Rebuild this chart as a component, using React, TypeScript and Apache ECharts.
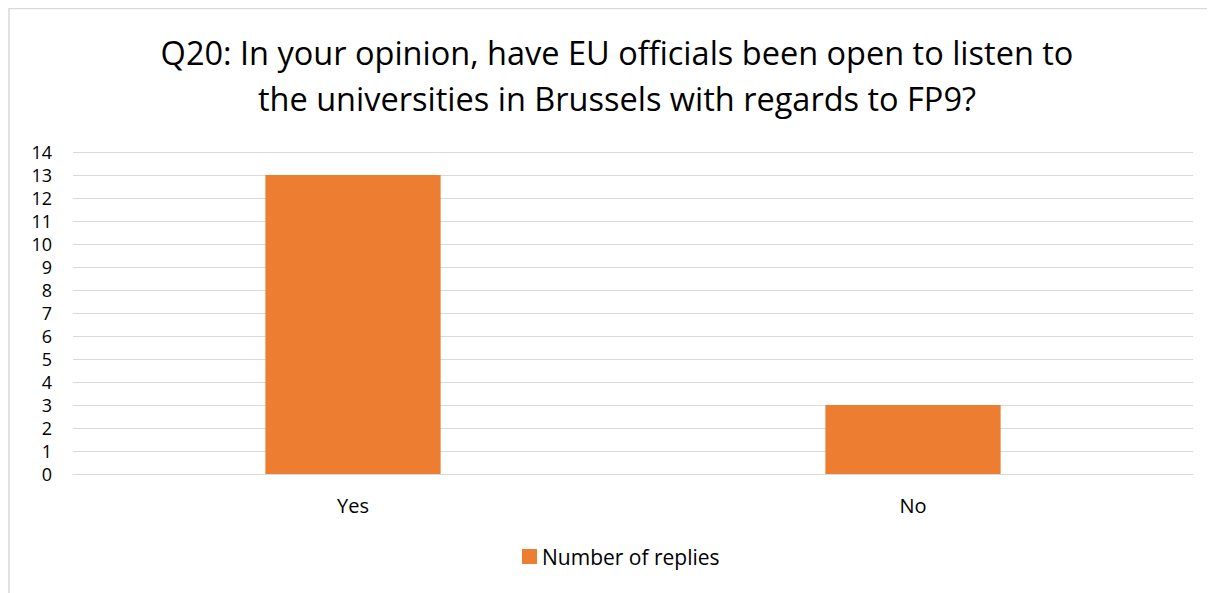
import React, { useEffect, useRef } from "react";
import * as echarts from "echarts";

const categories = ["Yes", "No"];
const replies = [13, 3];
const seriesName = "Number of replies";
const titleLines = [
  "Q20: In your opinion, have EU officials been open to listen to",
  "the universities in Brussels with regards to FP9?",
];

const FONT = "'Open Sans', sans-serif";

export default function App() {
  const ref = useRef<HTMLDivElement>(null);
  useEffect(() => {
    const chart = echarts.init(ref.current!, null, { renderer: "svg" });
    chart.setOption({
      animation: false,
      backgroundColor: "#ffffff",
      graphic: [
        {
          type: "rect",
          shape: { x: 1, y: 0.5, width: 1400, height: 800 },
          style: { fill: "none", stroke: "#d9d9d9", lineWidth: 1.5 },
          silent: true,
          z: 100,
        },
        ...titleLines.map((t, i) => ({
          type: "text",
          x: 609,
          y: 44 + i * 46,
          silent: true,
          style: {
            text: t,
            fontFamily: FONT,
            fontSize: 32.5,
            fill: "#000000",
            textAlign: "center",
            textVerticalAlign: "middle",
          },
        })),
      ],
      legend: {
        data: [seriesName],
        bottom: 21,
        left: 509,
        icon: "rect",
        itemWidth: 15,
        itemHeight: 15,
        itemGap: 6,
        textStyle: { fontFamily: FONT, fontSize: 21, color: "#000000" },
      },
      grid: { left: 65, right: 22, top: 144, bottom: 119 },
      xAxis: {
        type: "category",
        data: categories,
        axisLine: { show: true, lineStyle: { color: "#d9d9d9", width: 1 } },
        axisTick: { show: false },
        axisLabel: { fontFamily: FONT, fontSize: 20, color: "#000000", margin: 21 },
      },
      yAxis: {
        type: "value",
        min: 0,
        max: 14,
        interval: 1,
        axisLine: { show: false },
        axisTick: { show: false },
        axisLabel: { fontFamily: FONT, fontSize: 18, color: "#000000", margin: 21 },
        splitLine: { lineStyle: { color: "#d9d9d9", width: 1 } },
      },
      series: [
        {
          name: seriesName,
          type: "bar",
          data: replies,
          barWidth: "31.3%",
          itemStyle: { color: "#ED7D31" },
        },
      ],
    });
    return () => chart.dispose();
  }, []);
  return <div ref={ref} style={{ width: 1207, height: 585 }} />;
}
